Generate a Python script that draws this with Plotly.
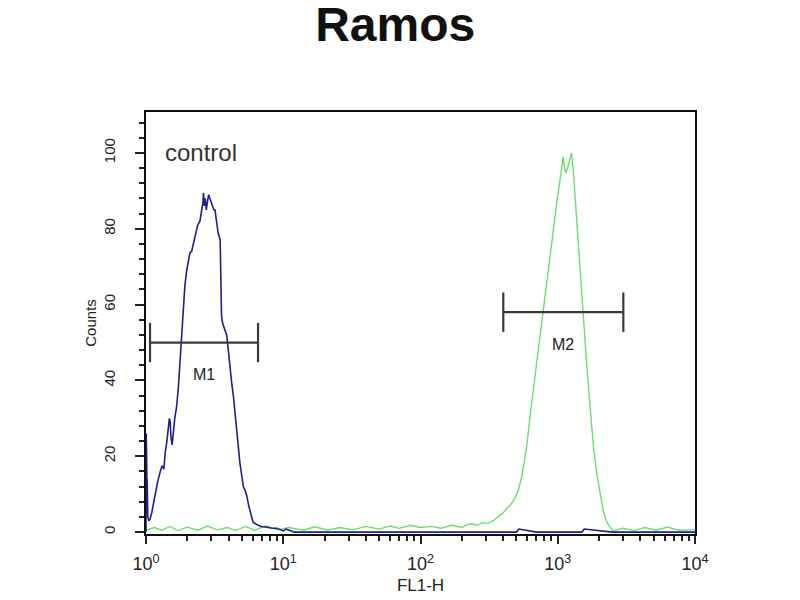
import math
import plotly.graph_objects as go

# control histogram (blue)
blue_x = [1.0, 1.004, 1.008, 1.012, 1.016, 1.02, 1.03, 1.05, 1.07, 1.1, 1.14, 1.18, 1.22, 1.27,
          1.31, 1.35, 1.38, 1.42, 1.45, 1.48, 1.5, 1.52, 1.55, 1.58, 1.62, 1.67, 1.72, 1.77,
          1.82, 1.87, 1.92, 1.98, 2.03, 2.09, 2.15, 2.22, 2.3, 2.38, 2.47, 2.55, 2.6, 2.62,
          2.66, 2.7, 2.75, 2.8, 2.86, 2.92, 2.98, 3.05, 3.12, 3.18, 3.26, 3.35, 3.47, 3.52,
          3.55, 3.62, 3.7, 3.8, 3.87, 3.98, 4.1, 4.22, 4.33, 4.46, 4.6, 4.72, 4.84, 4.98,
          5.12, 5.27, 5.42, 5.6, 5.8, 6.03, 6.4, 6.9, 7.6, 8.3, 9.0, 9.6, 10.0, 10.5, 12, 15,
          20, 30, 50, 80, 150, 300, 500, 520, 700, 1000, 1500, 1560, 2500, 4000, 6000, 10000]
blue_y = [0, 26, 12, 19, 8, 14, 4, 3, 3.4, 5, 8, 11, 13.5, 16,
          17.5, 16.6, 21, 24, 27, 30, 29, 25, 23, 27, 30, 33, 38, 45,
          53, 59, 65, 69, 71, 73.7, 74, 76, 79, 81, 82, 85, 87, 89.5,
          86, 88, 85, 87, 89, 88, 87, 86, 85, 85, 82, 79, 77, 65,
          57, 55, 54, 53, 52, 48, 43, 39, 36, 31, 26, 22, 18, 15,
          12, 11, 9.6, 7, 4.5, 2.6, 2, 1.5, 1.3, 1, 1, 0.5, 0.3, 0.8, 0, 0,
          0, 0, 0, 0, 0, 0, 0, 0.8, 0, 0, 0, 0.8, 0, 0, 0, 0]

# antibody histogram (green)
green_x = [1.0, 1.15, 1.3, 1.5, 1.7, 2.0, 2.4, 2.8, 3.3, 3.9, 4.5, 5.3, 6.2, 7.5, 9, 11, 14,
           17, 21, 26, 32, 40, 50, 60, 70, 85, 100, 120, 140, 170, 200, 220, 237, 260, 282,
           310, 339, 370, 398, 425, 449, 480, 516, 550, 594, 640, 703, 760, 832, 900, 977,
           1040, 1096, 1120, 1148, 1200, 1259, 1300, 1337, 1390, 1452, 1530, 1622, 1720,
           1820, 1930, 2042, 2150, 2275, 2400, 2512, 3000, 3600, 4300, 5200, 6300, 7600, 10000]
green_y = [0.5, 1.2, 0.5, 1.5, 0.4, 1.3, 0.5, 1.6, 0.6, 1.2, 0.4, 1.5, 0.5, 1.7, 0.6, 1.2, 0.5,
           1.4, 0.5, 1.2, 0.6, 1.5, 0.8, 1.6, 1.0, 1.8, 1.2, 1.5, 1.0, 1.8, 1.2, 2.0, 2.2, 1.8, 2.5,
           2.3, 3.0, 4.0, 5.0, 6.2, 7.0, 8.5, 11, 15, 22.7, 33, 44.7, 56, 66.6, 76, 86,
           93, 99, 96, 94.7, 97, 100, 95, 88.5, 80, 71, 58, 44.7, 33,
           22.7, 15, 9.6, 5.5, 2.6, 1.2, 0.3, 1.0, 0.4, 1.2, 0.5, 1.3, 0.5, 0.6]

# gate markers: name, left, right, level
gate_names = ["M1", "M2"]
gate_left = [1.07, 401]
gate_right = [6.55, 3005]
gate_level = [50, 58]

fig = go.Figure()
fig.add_trace(go.Scatter(x=green_x, y=green_y, mode="lines",
                         line=dict(color="#6fdc6f", width=1.4), hoverinfo="skip"))
fig.add_trace(go.Scatter(x=blue_x, y=blue_y, mode="lines",
                         line=dict(color="#1f1f8f", width=1.6), hoverinfo="skip"))

cap = 5.2
for name, a, b, lvl in zip(gate_names, gate_left, gate_right, gate_level):
    fig.add_trace(go.Scatter(
        x=[a, b, None, a, a, None, b, b],
        y=[lvl, lvl, None, lvl - cap, lvl + cap, None, lvl - cap, lvl + cap],
        mode="lines", line=dict(color="#3a3a3a", width=2.2), hoverinfo="skip"))
    mid = (math.log10(a) + math.log10(b)) / 2
    fig.add_annotation(x=mid, y=lvl - 8.5, text=name, showarrow=False,
                       font=dict(size=16, color="#222"))

fig.add_annotation(x=0.031, y=0.905, xref="paper", yref="paper", text="control",
                   showarrow=False, xanchor="left", yanchor="middle",
                   font=dict(size=24, color="#333"))

font_family = "Liberation Sans Narrow, Liberation Sans, Arial"
fig.update_layout(
    width=800, height=600,
    margin=dict(l=146, r=105, t=112, b=66),
    paper_bgcolor="white", plot_bgcolor="white",
    showlegend=False,
    font=dict(family=font_family, color="#222"),
    title=dict(text="<b>Ramos</b>", x=0.494, xanchor="center", y=0.987, yanchor="top",
               font=dict(size=48, color="#111", family="Liberation Sans, Arial")),
)
fig.update_xaxes(
    type="log", range=[0, 4], automargin=False,
    tickvals=[1, 10, 100, 1000, 10000],
    ticktext=["10<sup>0</sup>", "10<sup>1</sup>", "10<sup>2</sup>", "10<sup>3</sup>", "10<sup>4</sup>"],
    ticks="outside", ticklen=8, tickwidth=1.5, tickcolor="#222",
    minor=dict(tickvals=[2, 3, 4, 5, 6, 7, 8, 9, 20, 30, 40, 50, 60, 70, 80, 90,
                         200, 300, 400, 500, 600, 700, 800, 900,
                         2000, 3000, 4000, 5000, 6000, 7000, 8000, 9000],
               ticks="outside", ticklen=5, tickwidth=1.5, tickcolor="#222"),
    showline=True, linecolor="#111", linewidth=1.5, mirror=True,
    showgrid=False, zeroline=False,
    tickfont=dict(size=18, color="#222"),
    ticklabelstandoff=5,
    title=dict(text="FL1-H", font=dict(size=17, color="#222"), standoff=6),
)
fig.update_yaxes(
    range=[-0.5, 110.8], automargin=False,
    tickvals=[0, 20, 40, 60, 80, 100],
    tickangle=-90,
    ticks="outside", ticklen=9, tickwidth=1.5, tickcolor="#222",
    minor=dict(dtick=4, ticks="outside", ticklen=5, tickwidth=1.5, tickcolor="#222"),
    showline=True, linecolor="#111", linewidth=1.5, mirror=True,
    showgrid=False, zeroline=False,
    tickfont=dict(size=15, color="#222"),
    ticklabelstandoff=14,
    title=dict(text="Counts", font=dict(size=15, color="#222"), standoff=1),
)

# drop the browser's default page margin so the figure sits at the window corner
fig.write_html("out.html", config={"displayModeBar": False},
               post_script="document.body.style.margin='0px';")
